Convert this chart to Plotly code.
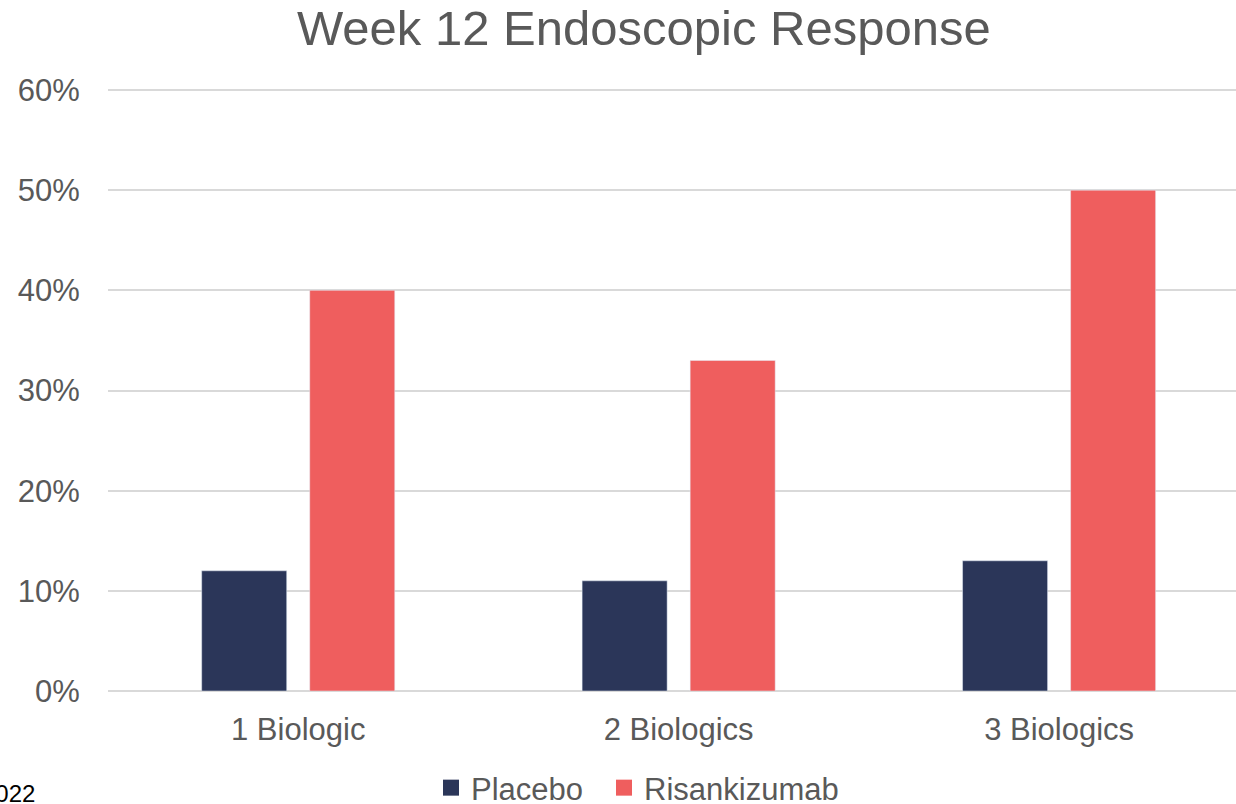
import plotly.graph_objects as go

categories = ["1 Biologic", "2 Biologics", "3 Biologics"]
placebo = [0.12, 0.11, 0.13]
risankizumab = [0.40, 0.33, 0.50]

navy = "#2B3659"
coral = "#EF5E5E"
grey_text = "#595959"

fig = go.Figure()
fig.add_trace(go.Bar(name="Placebo", x=categories, y=placebo, marker_color=navy, showlegend=False))
fig.add_trace(go.Bar(name="Risankizumab", x=categories, y=risankizumab, marker_color=coral, showlegend=False))
# legend entries with bigger square swatches, one legend box each so the spacing can be set
fig.add_trace(go.Scatter(name="Placebo", x=[None], y=[None], mode="markers", legend="legend",
                         marker=dict(symbol="square", size=18, color=navy)))
fig.add_trace(go.Scatter(name="Risankizumab", x=[None], y=[None], mode="markers", legend="legend2",
                         marker=dict(symbol="square", size=18, color=coral)))

leg = dict(orientation="h", xref="container", yref="container", xanchor="left",
           y=1 - 788 / 804, yanchor="middle", font=dict(size=31, color=grey_text), itemwidth=30)

fig.update_layout(
    width=1236, height=804,
    margin=dict(l=108, r=0, t=80, b=113, autoexpand=False),
    paper_bgcolor="white", plot_bgcolor="white",
    font=dict(family="Liberation Sans, Arial", color=grey_text, size=31),
    barmode="group", bargap=0.432, bargroupgap=0.213,
    title=dict(text="Week 12 Endoscopic Response", x=0.475, xref="paper", xanchor="center",
               y=1 - 28 / 804, yanchor="middle", font=dict(size=49, color=grey_text)),
    showlegend=True,
    legend=dict(leg, x=431 / 1236),
    legend2=dict(leg, x=604 / 1236),
)
fig.update_xaxes(range=[-0.5, 2.465], showgrid=False, showline=False, zeroline=False,
                 automargin=False,
                 ticks="outside", ticklen=11, tickcolor="rgba(0,0,0,0)",
                 tickfont=dict(size=31, color=grey_text))
fig.update_yaxes(range=[0, 0.61], dtick=0.1, tickformat=".0%", showgrid=True,
                 gridcolor="#D9D9D9", gridwidth=1.5, zeroline=True, zerolinecolor="#D9D9D9",
                 zerolinewidth=1.5, showline=False, automargin=False,
                 ticks="outside", ticklen=21, tickcolor="rgba(0,0,0,0)",
                 tickfont=dict(size=31, color=grey_text))

fig.add_annotation(text="2022", xref="paper", yref="paper", x=(37 - 108) / 1128, y=(691 - 793) / 611,
                   xanchor="right", yanchor="middle", showarrow=False,
                   font=dict(size=24, color="black"))

fig.write_html("out.html", config={"displayModeBar": False},
               post_script="document.body.style.margin='0';")
